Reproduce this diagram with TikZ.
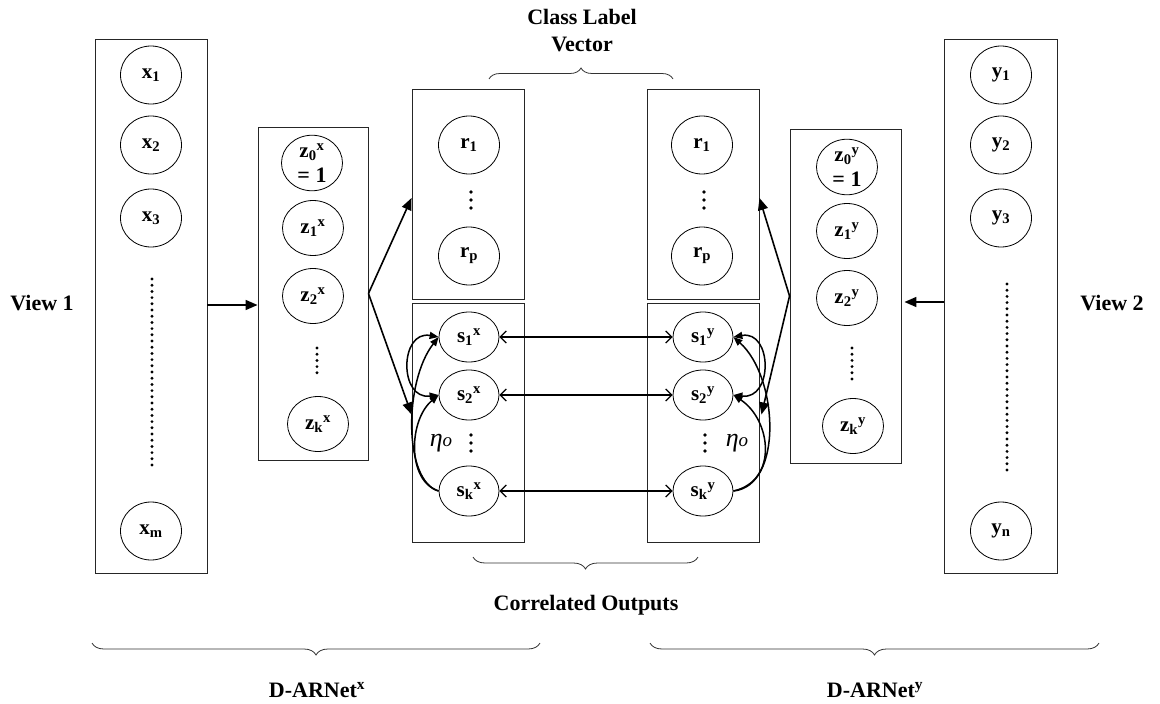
\documentclass[tikz,border=0pt]{standalone}
\usepackage{fontspec}
\setmainfont{Liberation Serif}
\usetikzlibrary{shapes.geometric,arrows.meta,decorations.pathreplacing,calc}
\newcommand\nlabfont{\fontsize{21}{24}\selectfont\bfseries}
\newcommand\ttlfont{\fontsize{22}{27}\selectfont\bfseries}
\begin{document}
\begin{tikzpicture}[x=1pt,y=-1pt,
  box/.style={draw=black!85, line width=0.9pt, inner sep=0pt, rectangle},
  unit/.style={draw, ellipse, line width=0.8pt, inner sep=0pt, minimum width=61pt, minimum height=58pt, font=\nlabfont, align=center},
  zunit/.style={unit, minimum height=55pt},
  sunit/.style={unit, minimum width=60pt, minimum height=50pt},
  lab/.style={font=\ttlfont, inner sep=0pt, align=center},
  etalab/.style={font=\fontsize{26}{26}\selectfont\itshape, inner sep=0pt},
  dotcol/.style={line width=3.2pt, line cap=round, dash pattern=on 0pt off 6.2pt},
  bigdots/.style={line width=3.8pt, line cap=round, dash pattern=on 0pt off 8pt},
  arr/.style={line width=1.6pt, -{Triangle[length=12pt,width=10pt]}},
  harr/.style={line width=1.3pt, {Straight Barb[length=6pt,width=12pt]}-{Straight Barb[length=6pt,width=12pt]}},
  carr/.style={line width=1.5pt, -{Triangle[length=9pt,width=7pt]}},
  carrb/.style={line width=1.5pt, {Triangle[length=9pt,width=7pt]}-{Triangle[length=9pt,width=7pt]}},
  brc/.style={draw=black!80, line width=0.8pt, decorate, decoration={brace, amplitude=11pt}},
  brcm/.style={draw=black!80, line width=0.8pt, decorate, decoration={brace, mirror, amplitude=12pt}}
]
\useasboundingbox (0,0) rectangle (1160,704);

% boxes
\node[box, minimum width=112pt, minimum height=534pt] (xbox) at (151,306) {};
\node[box, minimum width=110pt, minimum height=333pt] (zxbox) at (313,293.5) {};
\node[box, minimum width=112pt, minimum height=210pt] (rxbox) at (468,194) {};
\node[box, minimum width=112pt, minimum height=239pt] (sxbox) at (468,422.5) {};
\node[box, minimum width=112pt, minimum height=210pt] (rybox) at (703,194) {};
\node[box, minimum width=112pt, minimum height=239pt] (sybox) at (703,422.5) {};
\node[box, minimum width=111pt, minimum height=334pt] (zybox) at (845.5,296) {};
\node[box, minimum width=113pt, minimum height=534pt] (ybox) at (1000.5,306) {};

% x column
\node[unit] (x1) at (151,75) {x\textsubscript{1}};
\node[unit] (x2) at (151,145) {x\textsubscript{2}};
\node[unit] (x3) at (151,218) {x\textsubscript{3}};
\node[unit] (xm) at (151,531) {x\textsubscript{m}};
\draw[dotcol] (152,279) -- (152,465);

% z^x column
\node[zunit] (z0x) at (312,163) {z\textsubscript{0}\textsuperscript{x}\\[1pt]{\fontsize{22}{22}\selectfont = 1}};
\node[zunit] (z1x) at (313,228) {z\textsubscript{1}\textsuperscript{x}};
\node[zunit] (z2x) at (313,296) {z\textsubscript{2}\textsuperscript{x}};
\node[zunit] (zkx) at (318,424) {z\textsubscript{k}\textsuperscript{x}};
\draw[dotcol] (317,348) -- (317,377);

% r columns
\node[unit] (r1x) at (469,145) {r\textsubscript{1}};
\node[unit] (rpx) at (469,256) {r\textsubscript{p}};
\draw[bigdots] (471,192) -- (471,209);
\node[unit] (r1y) at (702,145) {r\textsubscript{1}};
\node[unit] (rpy) at (702,256) {r\textsubscript{p}};
\draw[bigdots] (704,192) -- (704,209);

% s columns
\node[sunit] (s1x) at (469,337) {s\textsubscript{1}\textsuperscript{x}};
\node[sunit] (s2x) at (469,395) {s\textsubscript{2}\textsuperscript{x}};
\node[sunit] (skx) at (469,491) {s\textsubscript{k}\textsuperscript{x}};
\draw[bigdots] (471,435) -- (471,452);
\node[etalab] (etax) at (441,443) {η{\fontsize{19}{19}\selectfont o}};

\node[sunit] (s1y) at (703,337) {s\textsubscript{1}\textsuperscript{y}};
\node[sunit] (s2y) at (703,395) {s\textsubscript{2}\textsuperscript{y}};
\node[sunit] (sky) at (703,491) {s\textsubscript{k}\textsuperscript{y}};
\draw[bigdots] (705,435) -- (705,452);
\node[etalab] (etay) at (737,443) {η{\fontsize{19}{19}\selectfont o}};

% z^y column
\node[zunit] (z0y) at (847,167) {z\textsubscript{0}\textsuperscript{y}\\[1pt]{\fontsize{22}{22}\selectfont = 1}};
\node[zunit] (z1y) at (847,231) {z\textsubscript{1}\textsuperscript{y}};
\node[zunit] (z2y) at (847,298) {z\textsubscript{2}\textsuperscript{y}};
\node[zunit] (zky) at (853,426) {z\textsubscript{k}\textsuperscript{y}};
\draw[dotcol] (852,348) -- (852,380);

% y column
\node[unit] (y1) at (1001,75) {y\textsubscript{1}};
\node[unit] (y2) at (1001,145) {y\textsubscript{2}};
\node[unit] (y3) at (1001,218) {y\textsubscript{3}};
\node[unit] (yn) at (1001,531) {y\textsubscript{n}};
\draw[dotcol] (1007,284) -- (1007,470);

% titles
\node[lab] (v1) at (42,303) {View 1};
\node[lab] (v2) at (1112,303) {View 2};
\node[lab] (clv) at (582,31) {Class Label\\Vector};
\node[lab] (co) at (586,605) {Correlated Outputs};
\node[lab] (dx) at (317,690) {D-ARNet\textsuperscript{x}};
\node[lab] (dy) at (875,690) {D-ARNet\textsuperscript{y}};

% braces
\coordinate (tb1) at (489,79); \coordinate (tb2) at (673,79);
\draw[brc] (tb1) -- (tb2);
\coordinate (mb1) at (473,557); \coordinate (mb2) at (698,557);
\draw[brcm] (mb1) -- (mb2);
\coordinate (lb1) at (92,643); \coordinate (lb2) at (540,643);
\draw[brcm] (lb1) -- (lb2);
\coordinate (rb1) at (650,643); \coordinate (rb2) at (1099,643);
\draw[brcm] (rb1) -- (rb2);

% main arrows
\coordinate (xa) at ($(xbox.east)+(0,-1)$);
\coordinate (ya) at ($(ybox.west)+(0,-4)$);
\draw[arr] (xa) -- (xa -| zxbox.west);
\draw[arr] (zxbox.east) -- ($(rxbox.west)+(0,4)$);
\draw[arr] (zxbox.east) -- ($(sxbox.west)+(0,-8)$);
\draw[arr, shorten >=3pt] (ya) -- (ya -| zybox.east);
\draw[arr] (zybox.west) -- ($(rybox.east)+(0,4)$);
\draw[arr] (zybox.west) -- ($(sybox.east)+(2,-8)$);

% correlation arrows
\draw[harr] (s1x.east) -- (s1y.west);
\draw[harr] (s2x.east) -- (s2y.west);
\draw[harr] (skx.east) -- (sky.west);

% recurrent curves, left
\draw[carrb] (s1x.west) .. controls +(-39,-7) and +(-40,5) .. (s2x.west);
\draw[carr] (skx.west) .. controls +(-35,-10) and +(-35,45) .. (s1x.west);
\draw[carr] (skx.west) .. controls +(-32,-10) and +(-30,25) .. (s2x.west);

% recurrent curves, right
\draw[carrb] (s1y.east) .. controls +(39,-7) and +(40,5) .. (s2y.east);
\draw[carr] (sky.east) .. controls +(50,-5) and +(45,40) .. (s1y.east);
\draw[carr] (sky.east) .. controls +(45,-10) and +(38,25) .. (s2y.east);
\end{tikzpicture}
\end{document}
